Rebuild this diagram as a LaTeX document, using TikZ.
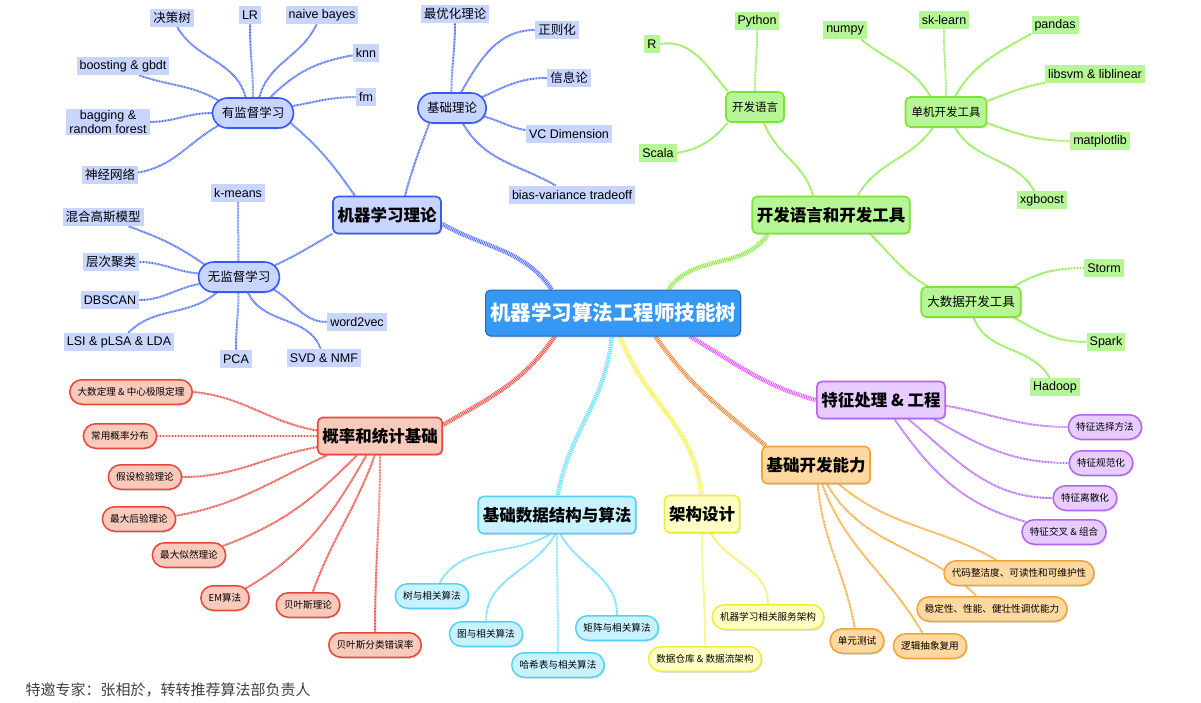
\documentclass[tikz,border=0pt]{standalone}
\usepackage{fontspec}
\setmainfont{Noto Sans CJK SC}
\newfontfamily\latinfont{Liberation Sans}
\usetikzlibrary{shapes.misc,shadows}

\definecolor{rootfill}{RGB}{52,152,244}
\definecolor{rootdraw}{RGB}{30,105,190}
\definecolor{mlfill}{RGB}{200,214,255}
\definecolor{mldraw}{RGB}{55,90,240}
\definecolor{mlline}{RGB}{85,115,250}
\definecolor{devfill}{RGB}{182,246,150}
\definecolor{devdraw}{RGB}{125,228,55}
\definecolor{devline}{RGB}{140,235,70}
\definecolor{ftfill}{RGB}{232,204,255}
\definecolor{ftdraw}{RGB}{178,100,240}
\definecolor{ftline}{RGB}{185,110,245}
\definecolor{ftroot}{RGB}{225,90,250}
\definecolor{bdfill}{RGB}{253,216,160}
\definecolor{bddraw}{RGB}{240,165,55}
\definecolor{bdline}{RGB}{245,172,65}
\definecolor{bdroot}{RGB}{235,140,60}
\definecolor{arfill}{RGB}{255,255,196}
\definecolor{ardraw}{RGB}{240,236,60}
\definecolor{arline}{RGB}{246,240,80}
\definecolor{dsfill}{RGB}{200,242,255}
\definecolor{dsdraw}{RGB}{85,210,250}
\definecolor{dsline}{RGB}{110,222,250}
\definecolor{psfill}{RGB}{248,202,188}
\definecolor{psdraw}{RGB}{232,70,60}
\definecolor{psline}{RGB}{236,85,75}

\pgfdeclarelayer{bg}
\pgfsetlayers{bg,main}

\tikzset{
  shade/.style={drop shadow={opacity=0.25,shadow xshift=1.2pt,shadow yshift=-1.5pt}},
  rootbox/.style={rectangle,rounded corners=5pt,draw=rootdraw,fill=rootfill,line width=1pt,
    text=white,inner xsep=4.5pt,minimum height=46pt,font=\fontsize{20.5}{23}\selectfont\bfseries,shade},
  mainbox/.style={rectangle,rounded corners=5pt,line width=1.6pt,inner xsep=4.5pt,
    minimum height=37pt,font=\fontsize{16.5}{19}\selectfont\bfseries,shade},
  subpill/.style={rounded rectangle,draw=mldraw,fill=mlfill,line width=1.6pt,inner xsep=8pt,
    minimum height=30pt,font=\fontsize{12.5}{14}\selectfont,shade},
  subbox/.style={rectangle,rounded corners=5pt,draw=devdraw,fill=devfill,line width=1.6pt,
    inner xsep=6pt,minimum height=30pt,font=\fontsize{11.5}{13}\selectfont,shade},
  tag/.style={rectangle,inner xsep=3pt,inner ysep=1.5pt,minimum height=18pt,
    font=\fontsize{12.5}{14}\selectfont},
  latin/.style={font=\fontsize{12.5}{14.5}\selectfont\latinfont},
  mltag/.style={tag,fill=mlfill},
  devtag/.style={tag,fill=devfill},
  pill/.style={rounded rectangle,line width=1.5pt,inner xsep=7pt,minimum height=24.5pt,
    font=\fontsize{9.6}{11}\selectfont,shade},
  trunk/.style={line width=4.5pt,dash pattern=on 1pt off 0.8pt},
  twig/.style={line width=2pt,dash pattern=on 0.9pt off 0.6pt},
}

\begin{document}
\begin{tikzpicture}[x=1pt,y=-1pt]
\useasboundingbox (0,0) rectangle (1201,703);

% centre and main branches
\node[rootbox] (root) at (613,313) {机器学习算法工程师技能树};
\node[mainbox,draw=mldraw,fill=mlfill] (mlt) at (387,215) {机器学习理论};
\node[mainbox,draw=devdraw,fill=devfill] (dev) at (831,215) {开发语言和开发工具};
\node[mainbox,draw=ftdraw,fill=ftfill] (feat) at (881,400) {特征处理 \& 工程};
\node[mainbox,draw=bddraw,fill=bdfill] (bdev) at (816,465) {基础开发能力};
\node[mainbox,draw=ardraw,fill=arfill] (arch) at (702,514) {架构设计};
\node[mainbox,draw=dsdraw,fill=dsfill] (dsa) at (557,515) {基础数据结构与算法};
\node[mainbox,draw=psdraw,fill=psfill] (pstat) at (380,436) {概率和统计基础};

% machine learning theory
\node[subpill] (sup) at (253,113) {有监督学习};
\node[subpill] (basic) at (452,108) {基础理论};
\node[subpill] (unsup) at (239,277) {无监督学习};
\node[mltag] (dtree) at (172,18) {决策树};
\node[mltag,latin] (lr) at (250,15) {LR};
\node[mltag,latin] (nbayes) at (322,15) {naive bayes};
\node[mltag,latin] (knn) at (366,53) {knn};
\node[mltag,latin] (fm) at (366,97) {fm};
\node[mltag,latin] (boost) at (123,66) {boosting \& gbdt};
\node[mltag,latin,align=center] (bag) at (108,122) {bagging \&\\random forest};
\node[mltag] (nnet) at (110,175) {神经网络};
\node[mltag] (optim) at (455,14) {最优化理论};
\node[mltag] (regu) at (557,30) {正则化};
\node[mltag] (info) at (569,78) {信息论};
\node[mltag,latin] (vcdim) at (569,134) {VC Dimension};
\node[mltag,latin] (biasv) at (572,195) {bias-variance tradeoff};
\node[mltag,latin] (kmeans) at (238,193) {k-means};
\node[mltag] (gmm) at (103,217) {混合高斯模型};
\node[mltag] (hclus) at (111,262) {层次聚类};
\node[mltag,latin] (dbscan) at (110,300) {DBSCAN};
\node[mltag,latin] (lsi) at (119,342) {LSI \& pLSA \& LDA};
\node[mltag,latin] (pca) at (236,359) {PCA};
\node[mltag,latin] (svd) at (324,358) {SVD \& NMF};
\node[mltag,latin] (wvec) at (357,322) {word2vec};

% languages and tools
\node[subbox] (lang) at (755,107) {开发语言};
\node[subbox] (single) at (946,112) {单机开发工具};
\node[subbox,font=\fontsize{12.5}{14}\selectfont] (bigd) at (971,302) {大数据开发工具};
\node[devtag,latin] (python) at (757,21) {Python};
\node[devtag,latin] (rlang) at (652,44) {R};
\node[devtag,latin] (scala) at (658,153) {Scala};
\node[devtag,latin] (numpy) at (845,30) {numpy};
\node[devtag,latin] (sklearn) at (944,20) {sk-learn};
\node[devtag,latin] (pandas) at (1055,25) {pandas};
\node[devtag,latin] (libsvm) at (1095,74) {libsvm \& liblinear};
\node[devtag,latin] (mpl) at (1100,141) {matplotlib};
\node[devtag,latin] (xgb) at (1042,200) {xgboost};
\node[devtag,latin] (storm) at (1104,268) {Storm};
\node[devtag,latin] (spark) at (1106,342) {Spark};
\node[devtag,latin] (hadoop) at (1055,387) {Hadoop};

% feature engineering
\node[pill,draw=ftdraw,fill=ftfill] (fsel) at (1105,427) {特征选择方法};
\node[pill,draw=ftdraw,fill=ftfill] (fnorm) at (1101,463) {特征规范化};
\node[pill,draw=ftdraw,fill=ftfill] (fdisc) at (1085,498) {特征离散化};
\node[pill,draw=ftdraw,fill=ftfill] (fcross) at (1064,532) {特征交叉 \& 组合};

% basic development
\node[pill,draw=bddraw,fill=bdfill] (clean) at (1019,573) {代码整洁度、可读性和可维护性};
\node[pill,draw=bddraw,fill=bdfill] (stable) at (992,609) {稳定性、性能、健壮性调优能力};
\node[pill,draw=bddraw,fill=bdfill] (utest) at (857,641) {单元测试};
\node[pill,draw=bddraw,fill=bdfill] (reuse) at (930,646) {逻辑抽象复用};

% architecture
\node[pill,draw=ardraw,fill=arfill] (mlsvc) at (768,617) {机器学习相关服务架构};
\node[pill,draw=ardraw,fill=arfill] (dware) at (705,659) {数据仓库 \& 数据流架构};

% data structures
\node[pill,draw=dsdraw,fill=dsfill] (tree) at (432,596) {树与相关算法};
\node[pill,draw=dsdraw,fill=dsfill] (graph) at (486,634) {图与相关算法};
\node[pill,draw=dsdraw,fill=dsfill] (hash) at (558,665) {哈希表与相关算法};
\node[pill,draw=dsdraw,fill=dsfill] (matrix) at (617,628) {矩阵与相关算法};

% probability and statistics
\node[pill,draw=psdraw,fill=psfill] (lln) at (131,392) {大数定理 \& 中心极限定理};
\node[pill,draw=psdraw,fill=psfill] (dist) at (120,436) {常用概率分布};
\node[pill,draw=psdraw,fill=psfill] (htest) at (145,477) {假设检验理论};
\node[pill,draw=psdraw,fill=psfill] (mapt) at (139,519) {最大后验理论};
\node[pill,draw=psdraw,fill=psfill] (mle) at (189,555) {最大似然理论};
\node[pill,draw=psdraw,fill=psfill] (em) at (225,598) {EM算法};
\node[pill,draw=psdraw,fill=psfill] (bayes) at (308,605) {贝叶斯理论};
\node[pill,draw=psdraw,fill=psfill] (berr) at (375,645) {贝叶斯分类错误率};

\node[anchor=west,text=black!75,font=\fontsize{15}{17}\selectfont] (credit) at (22,690)
  {特邀专家：张相於，转转推荐算法部负责人};

\begin{pgfonlayer}{bg}
% trunks
\draw[trunk,draw=mlline] (root.159) to[out=125,in=-30] (mlt.-9);
\draw[trunk,draw=devline] (root.23) to[out=55,in=235] (dev.197);
\draw[trunk,draw=psline] (root.202) to[out=235,in=30] (pstat.10);
\draw[trunk,draw=dsline] (root.267) to[out=-95,in=80] (dsa.88);
\draw[trunk,draw=arline] (root.-73) to[out=-70,in=95] (arch.92);
\draw[trunk,draw=bdroot] (root.-29) to[out=-55,in=140] (bdev.159);
\draw[trunk,draw=ftroot] (root.-17) to[out=-30,in=165] (feat.180);

% twigs, machine learning
\draw[twig,draw=mlline] (mlt.149) to[out=125,in=-40] (sup.-15);
\draw[twig,draw=mlline] (mlt.47) to[out=75,in=-110] (basic.214);
\draw[twig,draw=mlline] (mlt.199) to[out=210,in=25] (unsup.18);
\draw[twig,draw=mlline] (sup.115) to[out=105,in=-60] (dtree.-60);
\draw[twig,draw=mlline] (sup.90) to[out=90,in=-90] (lr.-90);
\draw[twig,draw=mlline] (sup.68) to[out=75,in=-115] (nbayes.-120);
\draw[twig,draw=mlline] (sup.42) to[out=45,in=190] (knn.190);
\draw[twig,draw=mlline] (sup.10) to[out=10,in=180] (fm.180);
\draw[twig,draw=mlline] (sup.160) to[out=150,in=-20] (boost.-30);
\draw[twig,draw=mlline] (sup.180) to[out=180,in=0] (bag.0);
\draw[twig,draw=mlline] (sup.200) to[out=210,in=10] (nnet.5);
\draw[twig,draw=mlline] (basic.92) to[out=90,in=-90] (optim.-90);
\draw[twig,draw=mlline] (basic.60) to[out=60,in=180] (regu.180);
\draw[twig,draw=mlline] (basic.20) to[out=25,in=180] (info.180);
\draw[twig,draw=mlline] (basic.-15) to[out=-15,in=170] (vcdim.175);
\draw[twig,draw=mlline] (basic.-55) to[out=-60,in=150] (biasv.150);
\draw[twig,draw=mlline] (unsup.92) to[out=90,in=-90] (kmeans.-90);
\draw[twig,draw=mlline] (unsup.160) to[out=145,in=-20] (gmm.-20);
\draw[twig,draw=mlline] (unsup.175) to[out=175,in=0] (hclus.0);
\draw[twig,draw=mlline] (unsup.190) to[out=190,in=0] (dbscan.0);
\draw[twig,draw=mlline] (unsup.215) to[out=220,in=45] (lsi.45);
\draw[twig,draw=mlline] (unsup.-92) to[out=-90,in=90] (pca.90);
\draw[twig,draw=mlline] (unsup.-60) to[out=-65,in=110] (svd.110);
\draw[twig,draw=mlline] (unsup.-20) to[out=-30,in=180] (wvec.180);

% twigs, languages and tools
\draw[twig,draw=devline] (dev.133) to[out=105,in=-70] (lang.-60);
\draw[twig,draw=devline] (dev.36) to[out=60,in=-125] (single.-130);
\draw[twig,draw=devline] (dev.-26) to[out=-45,in=150] (bigd.160);
\draw[twig,draw=devline] (lang.90) to[out=90,in=-90] (python.-90);
\draw[twig,draw=devline] (lang.150) to[out=130,in=10] (rlang.0);
\draw[twig,draw=devline] (lang.210) to[out=230,in=10] (scala.0);
\draw[twig,draw=devline] (single.135) to[out=120,in=-40] (numpy.-30);
\draw[twig,draw=devline] (single.90) to[out=90,in=-90] (sklearn.-90);
\draw[twig,draw=devline] (single.60) to[out=60,in=210] (pandas.200);
\draw[twig,draw=devline] (single.15) to[out=20,in=190] (libsvm.190);
\draw[twig,draw=devline] (single.-15) to[out=-20,in=180] (mpl.180);
\draw[twig,draw=devline] (single.-60) to[out=-60,in=120] (xgb.130);
\draw[twig,draw=devline] (bigd.20) to[out=30,in=180] (storm.180);
\draw[twig,draw=devline] (bigd.-20) to[out=-30,in=180] (spark.180);
\draw[twig,draw=devline] (bigd.-80) to[out=-70,in=120] (hadoop.120);

% twigs, features
\draw[twig,draw=ftline] (feat.-5) to[out=-10,in=180] (fsel.180);
\draw[twig,draw=ftline] (feat.-20) to[out=-30,in=180] (fnorm.180);
\draw[twig,draw=ftline] (feat.-35) to[out=-40,in=180] (fdisc.180);
\draw[twig,draw=ftline] (feat.-55) to[out=-55,in=165] (fcross.165);

% twigs, basic development
\draw[twig,draw=bdline] (bdev.-40) to[out=-40,in=150] (clean.150);
\draw[twig,draw=bdline] (bdev.-60) to[out=-60,in=135] (stable.140);
\draw[twig,draw=bdline] (bdev.-85) to[out=-85,in=100] (utest.100);
\draw[twig,draw=bdline] (bdev.-72) to[out=-70,in=120] (reuse.120);

% twigs, architecture
\draw[twig,draw=arline] (arch.-65) to[out=-60,in=90] (mlsvc.90);
\draw[twig,draw=arline] (arch.-90) to[out=-90,in=90] (dware.90);

% twigs, data structures
\draw[twig,draw=dsline] (dsa.-110) to[out=-150,in=60] (tree.60);
\draw[twig,draw=dsline] (dsa.-95) to[out=-120,in=90] (graph.90);
\draw[twig,draw=dsline] (dsa.-90) to[out=-90,in=90] (hash.90);
\draw[twig,draw=dsline] (dsa.-80) to[out=-60,in=90] (matrix.90);

% twigs, probability
\draw[twig,draw=psline] (pstat.175) to[out=170,in=-5] (lln.0);
\draw[twig,draw=psline] (pstat.180) to[out=180,in=0] (dist.0);
\draw[twig,draw=psline] (pstat.190) to[out=190,in=0] (htest.0);
\draw[twig,draw=psline] (pstat.200) to[out=205,in=10] (mapt.5);
\draw[twig,draw=psline] (pstat.220) to[out=225,in=20] (mle.15);
\draw[twig,draw=psline] (pstat.235) to[out=240,in=30] (em.25);
\draw[twig,draw=psline] (pstat.-105) to[out=-110,in=70] (bayes.70);
\draw[twig,draw=psline] (pstat.-90) to[out=-90,in=90] (berr.90);
\end{pgfonlayer}
\end{tikzpicture}
\end{document}
